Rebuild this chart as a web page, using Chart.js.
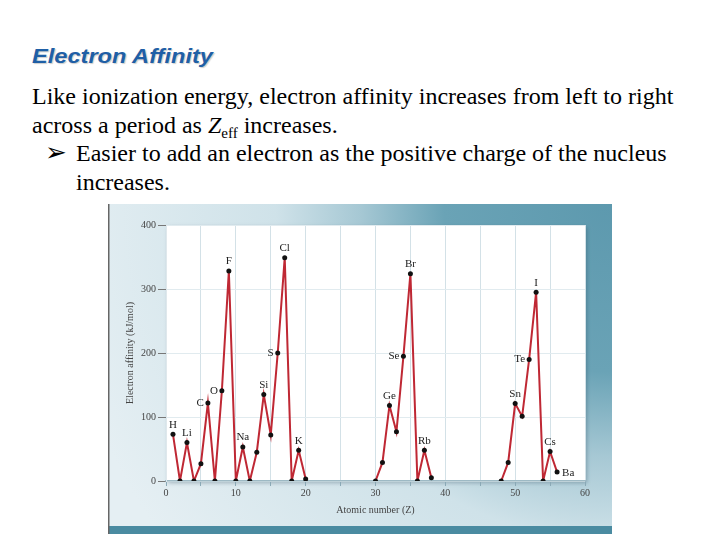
<!DOCTYPE html>
<html>
<head>
<meta charset="utf-8">
<script src="https://cdn.jsdelivr.net/npm/chart.js@4.4.1/dist/chart.umd.min.js"></script>
<style>
  body { margin: 0; width: 720px; height: 540px; background: #fff; position: relative; overflow: hidden; }
  .txt { position: absolute; font-family: 'Liberation Serif', 'Times New Roman', serif; font-size: 24px; line-height: 24px; color: #000; white-space: nowrap; }
  #title { position: absolute; left: 32px; top: 46px; font-family: 'Liberation Sans', Arial, sans-serif; font-weight: bold; font-style: italic; font-size: 20px; line-height: 20px; color: #1f5fa6; text-shadow: 1px 1px 1px rgba(0,0,0,0.2); transform: scaleX(1.18); transform-origin: left top; }
  sub { font-size: 15px; vertical-align: -5px; line-height: 0; }
  #chartBox { position: absolute; left: 108px; top: 204px; width: 504px; height: 330px; }
</style>
</head>
<body>
<div id="title">Electron Affinity</div>
<div class="txt" style="left:32px; top:84px;">Like ionization energy, electron affinity increases from left to right</div>
<div class="txt" style="left:32px; top:113px;">across a period as <i>Z</i><sub>eff</sub> increases.</div>
<div class="txt" style="left:45px; top:140px; font-family:'DejaVu Sans'; font-size:26px;">&#x27A2;</div>
<div class="txt" style="left:76px; top:141px;">Easier to add an electron as the positive charge of the nucleus</div>
<div class="txt" style="left:76px; top:170px;">increases.</div>
<div id="chartBox"><canvas id="eaChart" width="504" height="330"></canvas></div>
<script>
// atomic numbers and electron affinities (kJ/mol), one array per stretch of the plot
var zRun1 = [1, 2, 3, 4, 5, 6, 7, 8, 9, 10, 11, 12, 13, 14, 15, 16, 17, 18, 19, 20]
var eaRun1 = [73, 0, 60, 0, 27, 122, 0, 141, 328, 0, 53, 0, 45, 135, 72, 200, 349, 0, 48, 3]
var zRun2 = [30, 31, 32, 33, 34, 35, 36, 37, 38]
var eaRun2 = [0, 29, 118, 77, 195, 324, 0, 48, 5]
var zRun3 = [48, 49, 50, 51, 52, 53, 54, 55, 56]
var eaRun3 = [0, 29, 121, 101, 190, 295, 0, 46, 14]

// element symbols written beside some points
var labelSymbols = ['H', 'Li', 'C', 'O', 'F', 'Na', 'Si', 'S', 'Cl', 'K', 'Ge', 'Se', 'Br', 'Rb', 'Sn', 'Te', 'I', 'Cs', 'Ba']
var labelZ = [1, 3, 6, 8, 9, 11, 14, 16, 17, 19, 32, 34, 35, 37, 50, 52, 53, 55, 56]

var xTicks = [0, 10, 20, 30, 40, 50, 60]
var yTicks = [0, 100, 200, 300, 400]

// where each symbol sits relative to its point
var labelSide = {C: 'left', O: 'left', S: 'left', Se: 'left', Te: 'left', Ba: 'right'}

function toPoints(zs, vals) {
  return zs.map(function(z, i) { return {x: z, y: vals[i]} })
}

function lookupEA(z) {
  var runs = [[zRun1, eaRun1], [zRun2, eaRun2], [zRun3, eaRun3]]
  for (var r = 0; r < runs.length; r++) {
    var idx = runs[r][0].indexOf(z)
    if (idx >= 0) return runs[r][1][idx]
  }
  return null
}

var backdrop = {
  id: 'backdrop',
  beforeDraw: function(chart) {
    var ctx = chart.ctx, w = chart.width, h = chart.height, a = chart.chartArea
    ctx.save()
    var g = ctx.createRadialGradient(w, 0, 0, w, 0, 560)
    g.addColorStop(0, '#5d99ae')
    g.addColorStop(0.3, '#6aa3b6')
    g.addColorStop(0.45, '#a6c8d4')
    g.addColorStop(0.6, '#cfe2e9')
    g.addColorStop(1, '#e5eff3')
    ctx.fillStyle = g
    ctx.fillRect(0, 0, w, h)
    ctx.fillStyle = '#4a8ba1'
    ctx.fillRect(0, h - 8, w, 8)
    ctx.fillStyle = '#666'
    ctx.fillRect(0, 0, 1.5, h)
    ctx.shadowColor = 'rgba(40,70,90,0.35)'
    ctx.shadowBlur = 4
    ctx.shadowOffsetX = 2
    ctx.shadowOffsetY = 2
    ctx.fillStyle = '#fff'
    ctx.fillRect(a.left, a.top, a.right - a.left, a.bottom - a.top)
    ctx.restore()
  }
}

var symbolLabels = {
  id: 'symbolLabels',
  afterDatasetsDraw: function(chart) {
    var ctx = chart.ctx
    var xs = chart.scales.x, ys = chart.scales.y
    ctx.save()
    ctx.font = '11px "Liberation Serif", serif'
    ctx.fillStyle = '#222'
    labelSymbols.forEach(function(sym, i) {
      var v = lookupEA(labelZ[i])
      var px = xs.getPixelForValue(labelZ[i])
      var py = ys.getPixelForValue(v)
      var side = labelSide[sym] || 'top'
      if (side == 'left') {
        ctx.textAlign = 'right'; ctx.textBaseline = 'middle'
        ctx.fillText(sym, px - 4, py)
      } else if (side == 'right') {
        ctx.textAlign = 'left'; ctx.textBaseline = 'middle'
        ctx.fillText(sym, px + 5, py + 1)
      } else {
        ctx.textAlign = 'center'; ctx.textBaseline = 'bottom'
        ctx.fillText(sym, px, py - 4)
      }
    })
    ctx.restore()
  }
}

var lineStyle = {
  borderColor: '#bf2834',
  borderWidth: 2,
  pointRadius: 2.5,
  pointBackgroundColor: '#111',
  pointBorderColor: '#111',
  pointBorderWidth: 0,
  tension: 0,
  fill: false
}

var tickFont = {family: '"Liberation Serif", serif', size: 10}

var eaChart = new Chart(document.getElementById('eaChart'), {
  type: 'line',
  data: {
    datasets: [
      Object.assign({data: toPoints(zRun1, eaRun1)}, lineStyle),
      Object.assign({data: toPoints(zRun2, eaRun2)}, lineStyle),
      Object.assign({data: toPoints(zRun3, eaRun3)}, lineStyle)
    ]
  },
  options: {
    responsive: false,
    animation: false,
    layout: {padding: {top: 21, right: 27, left: 0, bottom: 0}},
    plugins: {legend: {display: false}, tooltip: {enabled: false}},
    scales: {
      x: {
        type: 'linear',
        min: 0, max: 60,
        afterFit: function(s) { s.height = 53 },
        grid: {color: '#d3e1e7', tickColor: '#8aa9b6', tickLength: 5},
        border: {color: '#9db9c4', width: 1.5},
        ticks: {
          stepSize: 5, autoSkip: false, maxRotation: 0, padding: 1,
          font: tickFont, color: '#444',
          callback: function(v) { return xTicks.indexOf(v) >= 0 ? String(v) : '' }
        },
        title: {display: true, text: 'Atomic number (Z)', font: tickFont, color: '#444', padding: {top: 0, bottom: 18}}
      },
      y: {
        min: 0, max: 400,
        afterFit: function(s) { s.width = 58 },
        grid: {color: '#e1ebef', tickColor: '#777', tickLength: 8},
        border: {color: '#dfe8ec'},
        ticks: {
          stepSize: 100, padding: 2, font: tickFont, color: '#444',
          callback: function(v) { return yTicks.indexOf(v) >= 0 ? String(v) : '' }
        },
        title: {display: true, text: 'Electron affinity (kJ/mol)', font: tickFont, color: '#444', padding: {top: 16, bottom: 0}}
      }
    }
  },
  plugins: [backdrop, symbolLabels]
});
</script>
</body>
</html>
